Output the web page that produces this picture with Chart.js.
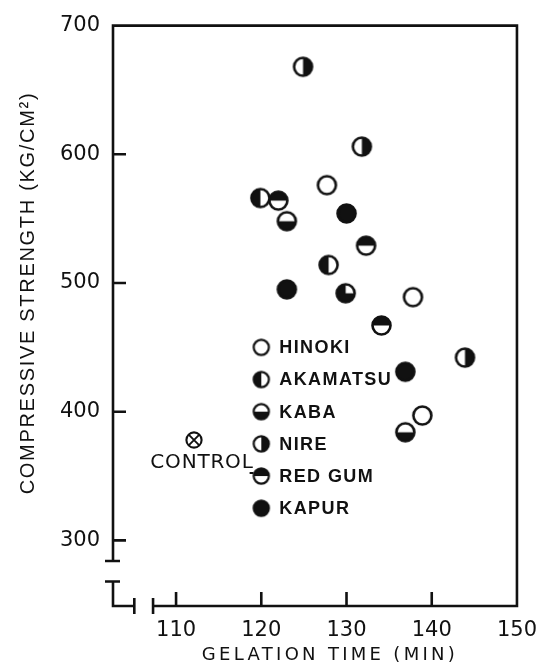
<!DOCTYPE html>
<html>
<head>
<meta charset="utf-8">
<script src="https://cdn.jsdelivr.net/npm/chart.js@4.4.0/dist/chart.umd.min.js"></script>
<style>
  html, body { margin: 0; padding: 0; background: #fff; }
  #wrap { width: 549px; height: 664px; }
</style>
</head>
<body>
<div id="wrap"><canvas id="chart" width="549" height="664"></canvas></div>
<script>
// gelation time (min) vs compressive strength (kg/cm2), one series per wood
const species = ['HINOKI', 'AKAMATSU', 'KABA', 'NIRE', 'RED GUM', 'KAPUR'];
const hinokiTime = [127.7, 137.8, 138.9];
const hinokiStrength = [576, 489, 397];
const akamatsuTime = [119.9, 127.9];
const akamatsuStrength = [566, 514];
const kabaTime = [123.0, 136.9];
const kabaStrength = [548, 384];
const nireTime = [124.9, 131.8, 143.9];
const nireStrength = [668, 606, 442];
const redGumTime = [122.0, 132.3, 134.1];
const redGumStrength = [564, 529, 467];
const kapurTime = [130.0, 123.0, 136.9];
const kapurStrength = [554, 495, 431];
// one point carries a three-quarter symbol that is not in the key
const otherTime = [129.9];
const otherStrength = [492];
const controlTime = [112.1];
const controlStrength = [378];

const xTicks = [110, 120, 130, 140, 150];
const yTicks = [300, 400, 500, 600, 700];

const ink = '#111';

// symbol for each species, same order as the key
const symbols = ['open', 'left', 'bottom', 'right', 'top', 'full'];

function marker(kind, r, lw) {
  const size = Math.ceil(2 * r + lw + 2);
  const c = document.createElement('canvas');
  c.width = c.height = size;
  const g = c.getContext('2d');
  const m = size / 2;
  const PI = Math.PI;
  g.fillStyle = '#fff';
  g.beginPath(); g.arc(m, m, r, 0, 2 * PI); g.fill();
  g.fillStyle = ink;
  g.beginPath();
  if (kind === 'full') g.arc(m, m, r, 0, 2 * PI);
  else if (kind === 'left') g.arc(m, m, r, PI / 2, 3 * PI / 2);
  else if (kind === 'right') g.arc(m, m, r, -PI / 2, PI / 2);
  else if (kind === 'top') g.arc(m, m, r, PI, 2 * PI);
  else if (kind === 'bottom') g.arc(m, m, r, 0, PI);
  else if (kind === 'quarter') { g.moveTo(m, m); g.arc(m, m, r, 0, 3 * PI / 2); }
  g.closePath();
  if (kind !== 'open' && kind !== 'control') g.fill();
  g.strokeStyle = ink;
  g.lineWidth = lw;
  g.beginPath(); g.arc(m, m, r, 0, 2 * PI); g.stroke();
  if (kind === 'control') {
    const d = r * 0.7;
    g.lineWidth = lw * 0.9;
    g.beginPath();
    g.moveTo(m - d, m - d); g.lineTo(m + d, m + d);
    g.moveTo(m + d, m - d); g.lineTo(m - d, m + d);
    g.stroke();
  }
  return c;
}

function pts(xs, ys) {
  return xs.map((v, i) => ({ x: v, y: ys[i] }));
}

const seriesTime = [hinokiTime, akamatsuTime, kabaTime, nireTime, redGumTime, kapurTime];
const seriesStrength = [hinokiStrength, akamatsuStrength, kabaStrength, nireStrength, redGumStrength, kapurStrength];

const datasets = species.map((name, i) => ({
  label: name,
  data: pts(seriesTime[i], seriesStrength[i]),
  pointStyle: marker(symbols[i], 9, 2.6),
  pointRadius: 10
}));
datasets.push({ label: 'other', data: pts(otherTime, otherStrength), pointStyle: marker('quarter', 9, 2.6), pointRadius: 10 });
datasets.push({ label: 'CONTROL', data: pts(controlTime, controlStrength), pointStyle: marker('control', 7.6, 2.1), pointRadius: 9 });

// axis breaks (data units) and where the key sits
const yBreak = [268, 284];
const xBreak = [105.1, 107.3];
const keyTime = 120;
const keyTop = 450;
const keyStep = 25;

const figure = {
  id: 'figure',
  beforeDatasetsDraw(chart) {
    const { ctx, chartArea: a, scales: { x, y } } = chart;
    ctx.save();
    ctx.strokeStyle = ink;
    ctx.lineWidth = 2.6;
    const xl = a.left, xb = a.bottom;
    const yEnd = y.getPixelForValue(yBreak[1]);
    const yLow = y.getPixelForValue(yBreak[0]);
    const xEnd = x.getPixelForValue(xBreak[0]);
    const xStart = x.getPixelForValue(xBreak[1]);
    ctx.beginPath();
    ctx.moveTo(xl, yEnd); ctx.lineTo(xl, a.top); ctx.lineTo(a.right, a.top);
    ctx.lineTo(a.right, xb); ctx.lineTo(xStart, xb);
    // little corner piece below the break
    ctx.moveTo(xl, yLow); ctx.lineTo(xl, xb); ctx.lineTo(xEnd, xb);
    // break caps
    ctx.moveTo(xl - 8, yEnd); ctx.lineTo(xl + 7, yEnd);
    ctx.moveTo(xl - 8, yLow); ctx.lineTo(xl + 7, yLow);
    ctx.moveTo(xEnd, xb - 8); ctx.lineTo(xEnd, xb + 8);
    ctx.moveTo(xStart, xb - 8); ctx.lineTo(xStart, xb + 8);
    yTicks.forEach(v => { const p = y.getPixelForValue(v); ctx.moveTo(xl, p); ctx.lineTo(xl + 13, p); });
    xTicks.forEach(v => { const p = x.getPixelForValue(v); ctx.moveTo(p, xb); ctx.lineTo(p, xb - 14); });
    ctx.stroke();
    ctx.restore();
  },
  afterDatasetsDraw(chart) {
    const { ctx, scales: { x, y } } = chart;
    ctx.save();
    ctx.fillStyle = ink;

    // axis titles
    ctx.font = '18px "DejaVu Sans"';
    ctx.letterSpacing = '3.3px';
    ctx.textAlign = 'center';
    ctx.textBaseline = 'middle';
    ctx.fillText('GELATION TIME (MIN)', 330, 655);

    ctx.save();
    ctx.translate(28, 293);
    ctx.rotate(-Math.PI / 2);
    ctx.font = '20px "Liberation Sans"';
    ctx.letterSpacing = '1.7px';
    ctx.fillText('COMPRESSIVE STRENGTH (KG/CM\u00B2)', 0, 0);
    ctx.restore();

    // key
    const kx = x.getPixelForValue(keyTime);
    ctx.font = 'bold 18px "Liberation Sans"';
    ctx.letterSpacing = '1.4px';
    ctx.textAlign = 'left';
    let redGumY = 0;
    chart.data.datasets.slice(0, species.length).forEach((ds, i) => {
      const ky = y.getPixelForValue(keyTop - keyStep * i);
      const img = marker(symbols[i], 7.6, 2.2);
      ctx.drawImage(img, kx - img.width / 2, ky - img.height / 2);
      ctx.fillText(ds.label, kx + 18, ky + 1);
      if (ds.label === 'RED GUM') redGumY = ky;
    });

    // control label
    const cx = x.getPixelForValue(controlTime[0]);
    const cy = y.getPixelForValue(controlStrength[0]);
    ctx.font = '20px "DejaVu Sans"';
    ctx.letterSpacing = '0.8px';
    ctx.textAlign = 'center';
    ctx.fillText('CONTROL', cx + 8, cy + 23);
    const w = ctx.measureText('CONTROL').width;
    ctx.strokeStyle = ink;
    ctx.lineWidth = 2;
    ctx.beginPath();
    ctx.moveTo(cx + 8 + w / 2 - 4, redGumY - 3);
    ctx.lineTo(kx - 8, redGumY - 3);
    ctx.stroke();
    ctx.restore();
  }
};

new Chart(document.getElementById('chart'), {
  type: 'scatter',
  data: { datasets: datasets },
  options: {
    responsive: false,
    animation: false,
    events: [],
    layout: { padding: { top: 20, right: 22, left: 0, bottom: 0 } },
    plugins: { legend: { display: false }, tooltip: { enabled: false } },
    scales: {
      x: {
        type: 'linear',
        min: 102.6,
        max: 150,
        afterBuildTicks: s => { s.ticks = xTicks.map(v => ({ value: v })); },
        afterFit: s => { s.height = 58; },
        grid: { display: false, drawTicks: false },
        border: { display: false },
        ticks: { padding: 12, color: ink, font: { family: 'DejaVu Sans', size: 21 } }
      },
      y: {
        type: 'linear',
        min: 249,
        max: 700,
        afterBuildTicks: s => { s.ticks = yTicks.map(v => ({ value: v })); },
        afterFit: s => { s.width = 113; },
        grid: { display: false, drawTicks: false },
        border: { display: false },
        ticks: { padding: 13, color: ink, font: { family: 'DejaVu Sans', size: 21 } }
      }
    }
  },
  plugins: [figure]
});
</script>
</body>
</html>
